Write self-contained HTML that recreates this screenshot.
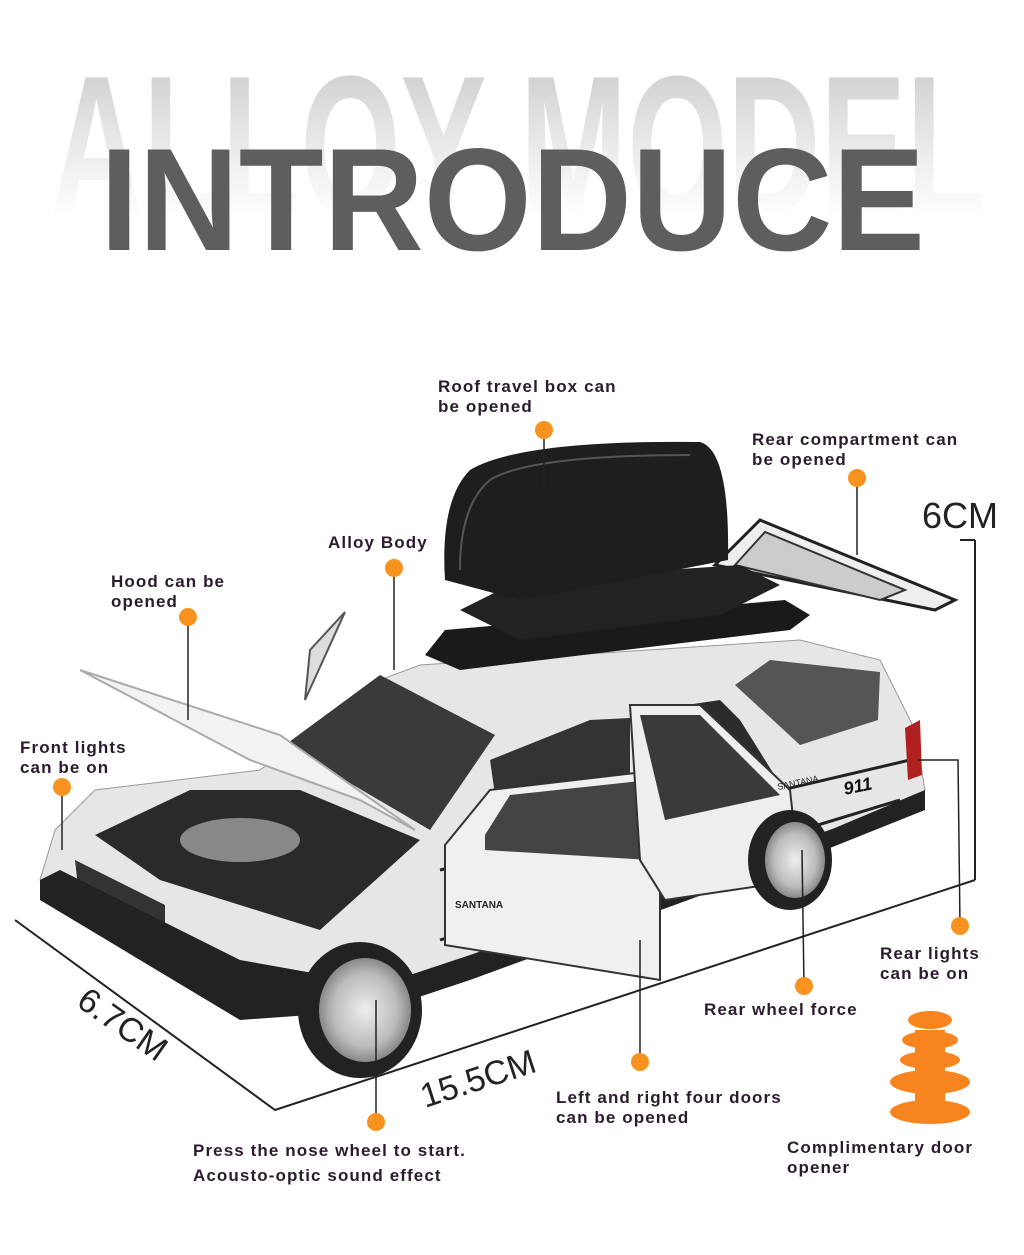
<!DOCTYPE html>
<html><head><meta charset="utf-8">
<style>
html,body{margin:0;padding:0;background:#fff;}
body{width:1024px;height:1255px;position:relative;overflow:hidden;font-family:"Liberation Sans",sans-serif;}
.l{position:absolute;font-weight:bold;font-size:17px;line-height:20px;color:#2a1c2c;letter-spacing:1.1px;}
</style></head><body>
<svg width="1024" height="1255" viewBox="0 0 1024 1255" style="position:absolute;left:0;top:0">
<defs>
<linearGradient id="fade" x1="0" y1="65" x2="0" y2="220" gradientUnits="userSpaceOnUse">
<stop offset="0" stop-color="#cfcfcf"/><stop offset="0.55" stop-color="#ebebeb"/><stop offset="1" stop-color="#fff"/>
</linearGradient>
<radialGradient id="wh" cx="0.5" cy="0.5" r="0.5">
<stop offset="0" stop-color="#eee"/><stop offset="0.7" stop-color="#bbb"/><stop offset="1" stop-color="#888"/>
</radialGradient>
</defs>
<text x="50" y="215" font-family="Liberation Sans" font-weight="bold" font-size="200" fill="url(#fade)" textLength="935" lengthAdjust="spacingAndGlyphs">ALLOY MODEL</text>
<text x="100" y="250" font-family="Liberation Sans" font-weight="bold" font-size="146" fill="#5e5e5e" textLength="825" lengthAdjust="spacingAndGlyphs">INTRODUCE</text>

<polyline points="15,920 275,1110 975,880" fill="none" stroke="#222" stroke-width="2"/>
<line x1="975" y1="540" x2="975" y2="880" stroke="#222" stroke-width="2"/>
<line x1="960" y1="540" x2="975" y2="540" stroke="#222" stroke-width="2"/>
<text x="922" y="528" font-family="Liberation Sans" font-size="36" fill="#222">6CM</text>
<text transform="translate(75,1005) rotate(35)" font-family="Liberation Sans" font-size="34" fill="#222">6.7CM</text>
<text transform="translate(425,1108) rotate(-18)" font-family="Liberation Sans" font-size="34" fill="#222">15.5CM</text>

<polygon points="715,565 760,520 955,600 935,610" fill="#eee" stroke="#222" stroke-width="3"/>
<polygon points="735,565 765,532 905,590 880,600" fill="#ccc" stroke="#333" stroke-width="2"/>
<polygon points="55,830 95,790 260,770 380,680 420,665 800,640 880,660 915,730 925,790 900,812 830,830 470,960 380,990 240,1000 40,880" fill="#e6e6e6" stroke="#999" stroke-width="1"/>
<polygon points="285,745 380,675 495,735 430,830" fill="#3a3a3a"/>
<polygon points="735,685 770,660 880,672 878,720 800,745" fill="#555"/>
<polygon points="640,712 720,700 740,720 790,800 760,820 660,850" fill="#2c2c2c"/>
<polygon points="490,760 590,720 630,718 630,790 500,830" fill="#333"/>
<polygon points="95,835 190,790 300,790 420,840 320,930 160,880" fill="#2a2a2a"/>
<ellipse cx="240" cy="840" rx="60" ry="22" fill="#888"/>
<polygon points="75,860 165,905 165,950 80,905" fill="#333"/>
<polygon points="40,880 60,870 240,960 380,985 470,955 830,830 925,790 925,810 830,848 470,980 380,1010 240,1020 40,900" fill="#222"/>
<line x1="440" y1="870" x2="910" y2="760" stroke="#222" stroke-width="3"/>
<line x1="440" y1="940" x2="900" y2="800" stroke="#222" stroke-width="3"/>
<polygon points="80,670 280,735 415,830 360,800 250,760" fill="#f2f2f2" stroke="#aaa" stroke-width="2"/>
<polygon points="310,650 345,612 305,700" fill="#ddd" stroke="#555" stroke-width="2"/>
<polygon points="445,845 490,790 660,770 660,980 445,945" fill="#f0f0f0" stroke="#333" stroke-width="2"/>
<polygon points="485,835 510,795 650,780 650,860 485,850" fill="#444"/>
<polygon points="630,705 700,705 790,790 800,880 665,900 640,860" fill="#eee" stroke="#333" stroke-width="2"/>
<polygon points="640,715 700,715 780,795 665,820" fill="#3a3a3a"/>
<text x="455" y="908" font-family="Liberation Sans" font-weight="bold" font-size="10" fill="#222">SANTANA</text>
<text x="778" y="790" font-family="Liberation Sans" font-size="9" fill="#222" transform="rotate(-12 778 790)">SANTANA</text>
<text x="845" y="795" font-family="Liberation Sans" font-weight="bold" font-style="italic" font-size="18" fill="#111" transform="rotate(-12 845 795)">911</text>
<polygon points="905,728 920,720 922,775 908,780" fill="#b02020"/>
<ellipse cx="360" cy="1010" rx="62" ry="68" fill="#222"/>
<ellipse cx="365" cy="1010" rx="46" ry="52" fill="url(#wh)"/>
<ellipse cx="790" cy="860" rx="42" ry="50" fill="#222"/>
<ellipse cx="795" cy="860" rx="30" ry="38" fill="url(#wh)"/>
<polygon points="425,655 445,630 785,600 810,615 790,630 460,670" fill="#1a1a1a"/>
<polygon points="460,610 520,580 740,565 780,585 720,615 520,640" fill="#222"/>
<path d="M445,580 Q440,500 470,470 Q520,440 700,442 Q730,450 728,560 L520,600 Z" fill="#1e1e1e"/>
<path d="M460,570 Q460,505 490,480 Q530,455 690,455" fill="none" stroke="#555" stroke-width="2"/>

<g stroke="#222" stroke-width="1.5" fill="none">
<line x1="544" y1="430" x2="544" y2="490"/>
<line x1="857" y1="478" x2="857" y2="555"/>
<line x1="394" y1="568" x2="394" y2="670"/>
<line x1="188" y1="617" x2="188" y2="720"/>
<line x1="62" y1="787" x2="62" y2="850"/>
<polyline points="960,926 958,760 918,760"/>
<line x1="804" y1="986" x2="802" y2="850"/>
<line x1="640" y1="1062" x2="640" y2="940"/>
<line x1="376" y1="1122" x2="376" y2="1000"/>
</g>
<g fill="#f7931e">
<circle cx="544" cy="430" r="9"/><circle cx="857" cy="478" r="9"/><circle cx="394" cy="568" r="9"/>
<circle cx="188" cy="617" r="9"/><circle cx="62" cy="787" r="9"/><circle cx="960" cy="926" r="9"/>
<circle cx="804" cy="986" r="9"/><circle cx="640" cy="1062" r="9"/><circle cx="376" cy="1122" r="9"/>
</g>
<g fill="#f7841e">
<ellipse cx="930" cy="1112" rx="40" ry="12"/>
<rect x="915" y="1030" width="30" height="80"/>
<ellipse cx="930" cy="1082" rx="40" ry="12"/>
<ellipse cx="930" cy="1060" rx="30" ry="9"/>
<ellipse cx="930" cy="1040" rx="28" ry="9"/>
<ellipse cx="930" cy="1020" rx="22" ry="9"/>
</g>
</svg>
<div class="l" style="left:438px;top:377px">Roof travel box can<br>be opened</div>
<div class="l" style="left:752px;top:430px">Rear compartment can<br>be opened</div>
<div class="l" style="left:328px;top:533px">Alloy Body</div>
<div class="l" style="left:111px;top:572px">Hood can be<br>opened</div>
<div class="l" style="left:20px;top:738px">Front lights<br>can be on</div>
<div class="l" style="left:880px;top:944px">Rear lights<br>can be on</div>
<div class="l" style="left:704px;top:1000px">Rear wheel force</div>
<div class="l" style="left:556px;top:1088px">Left and right four doors<br>can be opened</div>
<div class="l" style="left:193px;top:1138px;line-height:25px">Press the nose wheel to start.<br>Acousto-optic sound effect</div>
<div class="l" style="left:787px;top:1138px">Complimentary door<br>opener</div>
</body></html>
